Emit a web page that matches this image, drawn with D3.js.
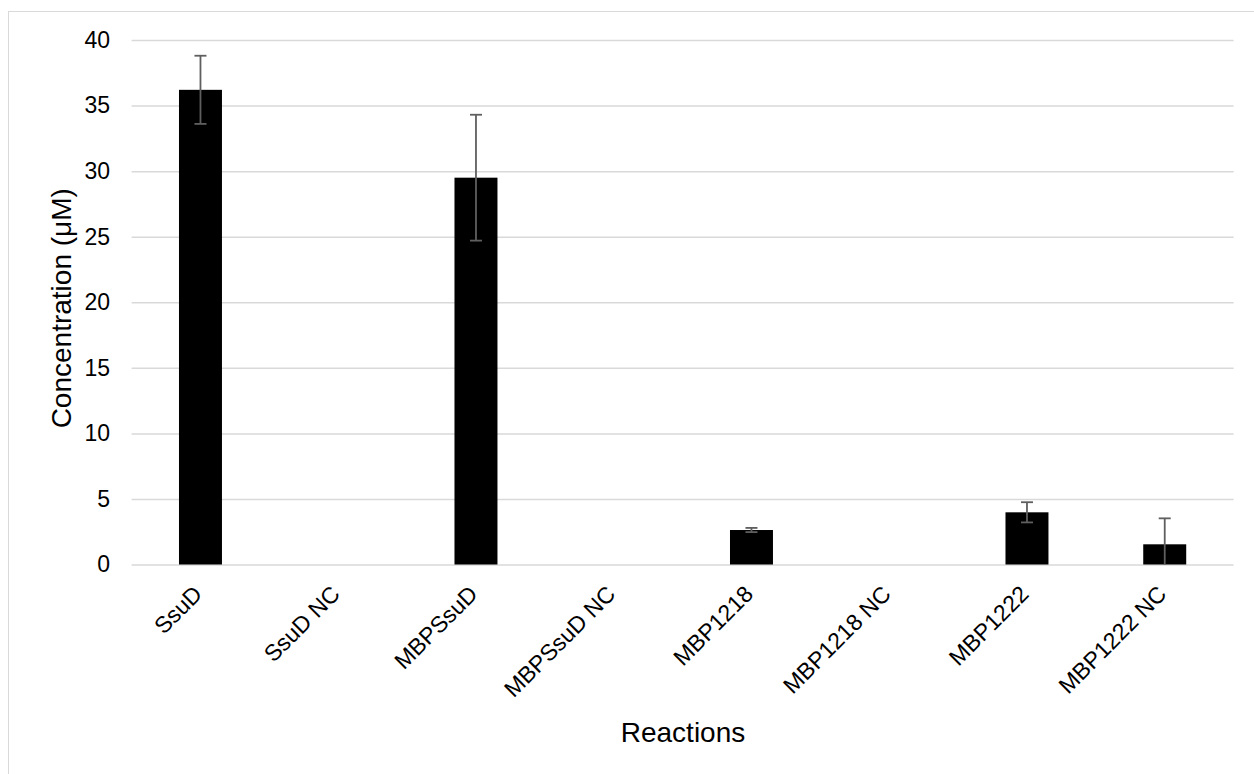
<!DOCTYPE html>
<html>
<head>
<meta charset="utf-8">
<script src="https://cdn.jsdelivr.net/npm/d3@7"></script>
<style>
  html, body { margin: 0; padding: 0; background: #fff; }
  svg { display: block; font-family: "Liberation Sans", Arial, sans-serif; }
</style>
</head>
<body>
<svg id="chart" width="1254" height="774"></svg>
<script>
const categories = ["SsuD", "SsuD NC", "MBPSsuD", "MBPSsuD NC", "MBP1218", "MBP1218 NC", "MBP1222", "MBP1222 NC"];
const values = [36.2, 0, 29.5, 0, 2.63, 0, 3.98, 1.54];
const errors = [2.6, 0, 4.8, 0, 0.16, 0, 0.77, 1.98];
const yTicks = [0, 5, 10, 15, 20, 25, 30, 35, 40];
const yTitle = "Concentration (μM)";
const xTitle = "Reactions";

const svg = d3.select("#chart");
const W = 1254, H = 774;
const plot = { left: 131.6, right: 1233.6, top: 40, bottom: 564.5 };

svg.append("rect").attr("width", W).attr("height", H).attr("fill", "#fff");
// chart area border (extends beyond viewport on right/bottom)
svg.append("rect")
  .attr("x", 8.5).attr("y", 11.5)
  .attr("width", W + 20).attr("height", H + 20)
  .attr("fill", "none").attr("stroke", "#d9d9d9").attr("stroke-width", 1);

const x = d3.scaleBand().domain(categories)
  .range([plot.left, plot.right])
  .paddingInner(0.688).paddingOuter(0.344);
const y = d3.scaleLinear().domain([0, 40]).range([plot.bottom, plot.top]);

// gridlines
const yAxis = d3.axisLeft(y).tickValues(yTicks).tickSize(-(plot.right - plot.left)).tickPadding(21.6);
const gy = svg.append("g").attr("transform", `translate(${plot.left},0)`).call(yAxis);
gy.select(".domain").remove();
gy.selectAll(".tick line").attr("stroke", "#d9d9d9").attr("stroke-width", 1.5);
gy.selectAll(".tick text").attr("fill", "#000").style("font-size", "23px")
  .style("font-family", "'Liberation Sans', Arial, sans-serif");

// bars
svg.append("g").selectAll("rect").data(categories).join("rect")
  .attr("x", d => x(d))
  .attr("width", x.bandwidth())
  .attr("y", (d, i) => y(values[i]))
  .attr("height", (d, i) => y(0) - y(values[i]))
  .attr("fill", "#000");

// error bars
const eb = svg.append("g").attr("stroke", "#5f5f5f").attr("stroke-width", 1.8).attr("fill", "none");
categories.forEach((c, i) => {
  if (!errors[i]) return;
  const cx = x(c) + x.bandwidth() / 2;
  const hi = values[i] + errors[i];
  const loRaw = values[i] - errors[i];
  const lo = Math.max(0, loRaw);
  eb.append("line").attr("x1", cx).attr("x2", cx).attr("y1", y(hi)).attr("y2", y(lo));
  eb.append("line").attr("x1", cx - 6).attr("x2", cx + 6).attr("y1", y(hi)).attr("y2", y(hi));
  if (loRaw >= 0) {
    eb.append("line").attr("x1", cx - 6).attr("x2", cx + 6).attr("y1", y(lo)).attr("y2", y(lo));
  }
});

// category labels
const xAxis = d3.axisBottom(x).tickSize(0).tickPadding(0);
const gx = svg.append("g").attr("transform", `translate(0,${plot.bottom})`).call(xAxis);
gx.select(".domain").remove();
gx.selectAll(".tick text")
  .attr("fill", "#000")
  .style("font-size", "23px")
  .style("font-family", "'Liberation Sans', Arial, sans-serif")
  .attr("text-anchor", "end")
  .attr("dy", null)
  .attr("y", null)
  .attr("transform", "translate(3,31) rotate(-45)");

// axis titles
svg.append("text")
  .attr("transform", `translate(71,${(plot.top + plot.bottom) / 2 + 6}) rotate(-90)`)
  .attr("text-anchor", "middle")
  .style("font-size", "28px")
  .attr("fill", "#000")
  .text(yTitle);

svg.append("text")
  .attr("x", 683).attr("y", 742)
  .attr("text-anchor", "middle")
  .style("font-size", "28px")
  .attr("fill", "#000")
  .text(xTitle);
</script>
</body>
</html>
